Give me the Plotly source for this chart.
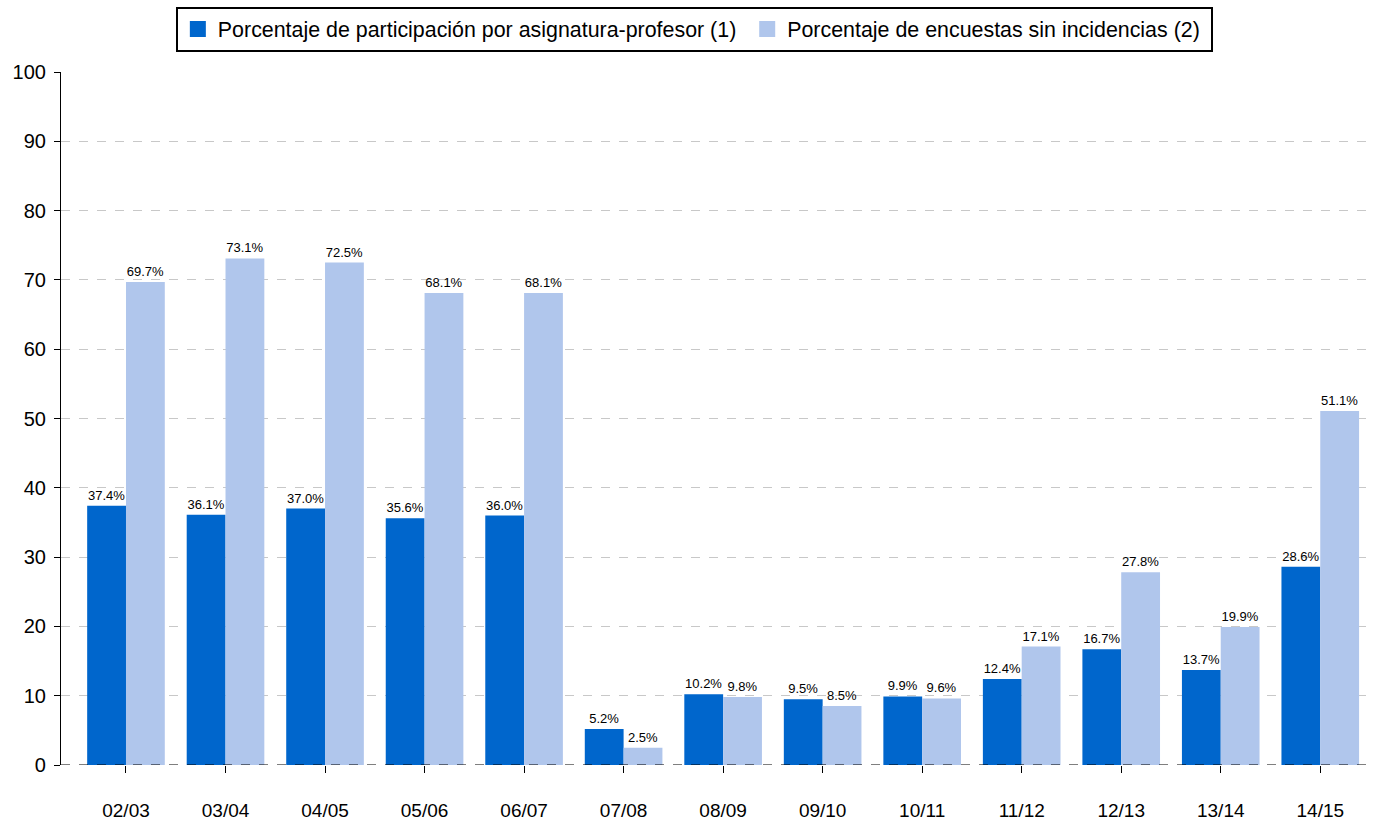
import plotly.graph_objects as go

categories = ["02/03", "03/04", "04/05", "05/06", "06/07", "07/08", "08/09",
              "09/10", "10/11", "11/12", "12/13", "13/14", "14/15"]
participacion = [37.4, 36.1, 37.0, 35.6, 36.0, 5.2, 10.2, 9.5, 9.9, 12.4, 16.7, 13.7, 28.6]
sin_incidencias = [69.7, 73.1, 72.5, 68.1, 68.1, 2.5, 9.8, 8.5, 9.6, 17.1, 27.8, 19.9, 51.1]
series_names = ["Porcentaje de participación por asignatura-profesor (1)",
                "Porcentaje de encuestas sin incidencias (2)"]
y_ticks = [0, 10, 20, 30, 40, 50, 60, 70, 80, 90, 100]

FONT = "Liberation Sans, Arial, sans-serif"
COLORS = ["#0066CC", "#B0C6EC"]

fig = go.Figure()
for vals, name, col in zip([participacion, sin_incidencias], series_names, COLORS):
    fig.add_trace(go.Bar(
        x=categories, y=vals, name=name, showlegend=False,
        marker=dict(color=col, line=dict(width=0)),
        text=[f"{v:.1f}%" for v in vals],
        textposition="outside", textfont=dict(size=13, color="#000000", family=FONT),
        cliponaxis=False,
    ))

# legend entries with larger square symbols
legend_labels = [series_names[0] + "\u00a0", series_names[1] + "\u00a0"]
for name, col in zip(legend_labels, COLORS):
    fig.add_trace(go.Scatter(
        x=[None], y=[None], mode="markers", name=name,
        marker=dict(symbol="square", size=22, color=col),
        showlegend=True,
    ))

fig.add_shape(type="line", xref="paper", yref="y", x0=0, x1=1, y0=0, y1=0,
              line=dict(color="#000000", width=1.2, dash="dash"), layer="above")

fig.update_layout(
    width=1375, height=819,
    margin=dict(l=61, r=0, t=72, b=54),
    plot_bgcolor="#FFFFFF", paper_bgcolor="#FFFFFF",
    font=dict(family=FONT, color="#000000"),
    barmode="group", bargap=0.22, bargroupgap=0,
    showlegend=True,
    legend=dict(
        orientation="h", xref="paper", yref="container",
        x=0.482, xanchor="center", y=0.992, yanchor="top",
        bordercolor="#000000", borderwidth=2, bgcolor="#FFFFFF",
        font=dict(size=21.4, family=FONT, color="#000000"),
        traceorder="normal", itemsizing="trace", itemwidth=30,
    ),
    xaxis=dict(
        type="category", range=[-0.653, 12.55], automargin=False,
        showgrid=False, showline=False, zeroline=False,
        ticks="outside", ticklen=7, tickwidth=1.2, tickcolor="#000000",
        tickfont=dict(size=19, family=FONT, color="#000000"),
        ticklabelstandoff=21,
    ),
    yaxis=dict(
        range=[0, 100], tickvals=y_ticks, automargin=False,
        showgrid=True, gridcolor="#C8C8C8", griddash="dash", gridwidth=1,
        showline=True, linecolor="#000000", linewidth=1.2,
        zeroline=False,
        ticks="outside", ticklen=6, tickwidth=1.2, tickcolor="#000000",
        tickfont=dict(size=20, family=FONT, color="#000000"),
        ticklabelstandoff=4,
    ),
)

fig.write_html("out.html", config={"displayModeBar": False},
               post_script="document.body.style.margin='0';document.body.style.overflow='hidden';")
